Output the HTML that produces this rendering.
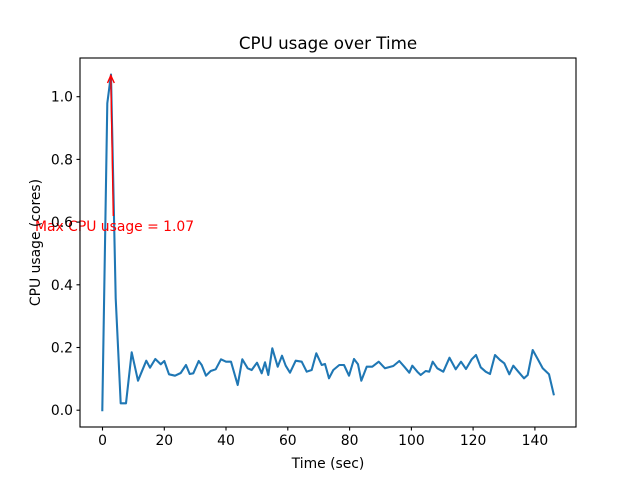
<!DOCTYPE html>
<html><head><meta charset="utf-8"><style>
html,body{margin:0;padding:0;background:#fff;}
svg{display:block;}
text{font-family:"DejaVu Sans","Liberation Sans",sans-serif;}
</style></head><body>
<svg width="640" height="480" viewBox="0 0 640 480" xmlns="http://www.w3.org/2000/svg">
<rect x="0" y="0" width="640" height="480" fill="#fff"/>
<text x="328" y="49" font-size="16.7" text-anchor="middle" fill="#000">CPU usage over Time</text>
<polyline fill="none" stroke="#1f77b4" stroke-width="2.08" stroke-linejoin="round" stroke-linecap="square" points="102.3,410.2 107.3,103.3 111,74.5 115.7,298.3 120.7,403.3 126,403.3 131.7,352.3 138,380.7 146.3,360.7 150,367.7 155.3,359 160.7,364.3 164.3,361 169,374.3 175,375.7 180.7,373 186,365 189.7,374 193.3,373.3 198.7,361 201.7,365 206,375.7 210.7,371 215.7,369.3 221,359.3 226,361.7 231,361.7 237.7,385 242.3,359.3 247.7,368.3 251.7,370 257,362.7 261.7,373.3 265,362.3 268.3,375 272.3,348.3 277.7,366.7 282,355.7 285.7,365.7 290,372.7 295.7,360.7 301.7,361.7 306.7,371.7 311.7,370 316.3,353.3 321.7,365 325,364 329,378.3 333.3,370 339.3,365 344,365 349,375.7 354,359 358,364.3 361.3,380.7 366.7,366.7 372.3,366.7 378.7,361.7 385,368.3 393.3,366 399.3,361 404.3,366.7 409.3,372.7 412.3,365.7 417.3,371.7 420.7,375 425.7,371 429.3,371.7 432.7,361.7 437.3,368.3 443.3,371.7 449.5,357.7 455.7,369.3 461,361.7 466,369 471.7,359.3 476,355 480.7,367.3 485.7,371.7 490,374 495,355 500,360 504.3,363.3 509.3,374.3 513.3,365.7 518.3,371.7 524,378.3 527.7,375 532.7,350 537.7,359 542.7,368.3 549,374.3 553.7,394.3"/>
<!-- annotation arrow -->
<line x1="113.3" y1="216" x2="110.8" y2="76" stroke="#ff0000" stroke-width="1.4"/>
<polyline points="107.5,83 110.8,75.5 114.3,83" fill="none" stroke="#ff0000" stroke-width="1.4"/>
<text x="35" y="231" font-size="13.9" fill="#ff0000">Max CPU usage = 1.07</text>
<!-- axes frame -->
<rect x="80" y="58" width="496" height="369" fill="none" stroke="#000" stroke-width="1.1"/>
<!-- x ticks -->
<g stroke="#000" stroke-width="1.1">
<line x1="102.5" y1="427" x2="102.5" y2="430.5"/>
<line x1="164.3" y1="427" x2="164.3" y2="430.5"/>
<line x1="226" y1="427" x2="226" y2="430.5"/>
<line x1="287.8" y1="427" x2="287.8" y2="430.5"/>
<line x1="349.6" y1="427" x2="349.6" y2="430.5"/>
<line x1="411.4" y1="427" x2="411.4" y2="430.5"/>
<line x1="473.1" y1="427" x2="473.1" y2="430.5"/>
<line x1="534.9" y1="427" x2="534.9" y2="430.5"/>
</g>
<g font-size="13.9" text-anchor="middle" fill="#000">
<text x="102.5" y="445">0</text>
<text x="164.3" y="445">20</text>
<text x="226" y="445">40</text>
<text x="287.8" y="445">60</text>
<text x="349.6" y="445">80</text>
<text x="411.4" y="445">100</text>
<text x="473.1" y="445">120</text>
<text x="534.9" y="445">140</text>
</g>
<!-- y ticks -->
<g stroke="#000" stroke-width="1.1">
<line x1="76.5" y1="410.2" x2="80" y2="410.2"/>
<line x1="76.5" y1="347.5" x2="80" y2="347.5"/>
<line x1="76.5" y1="284.8" x2="80" y2="284.8"/>
<line x1="76.5" y1="222.1" x2="80" y2="222.1"/>
<line x1="76.5" y1="159.4" x2="80" y2="159.4"/>
<line x1="76.5" y1="96.7" x2="80" y2="96.7"/>
</g>
<g font-size="13.9" text-anchor="end" fill="#000">
<text x="73" y="415.2">0.0</text>
<text x="73" y="352.5">0.2</text>
<text x="73" y="289.8">0.4</text>
<text x="73" y="227.1">0.6</text>
<text x="73" y="164.4">0.8</text>
<text x="73" y="101.7">1.0</text>
</g>
<text x="328" y="468" font-size="13.9" text-anchor="middle" fill="#000">Time (sec)</text>
<text transform="translate(40,242.5) rotate(-90)" font-size="13.9" text-anchor="middle" fill="#000">CPU usage (cores)</text>
</svg>
</body></html>
